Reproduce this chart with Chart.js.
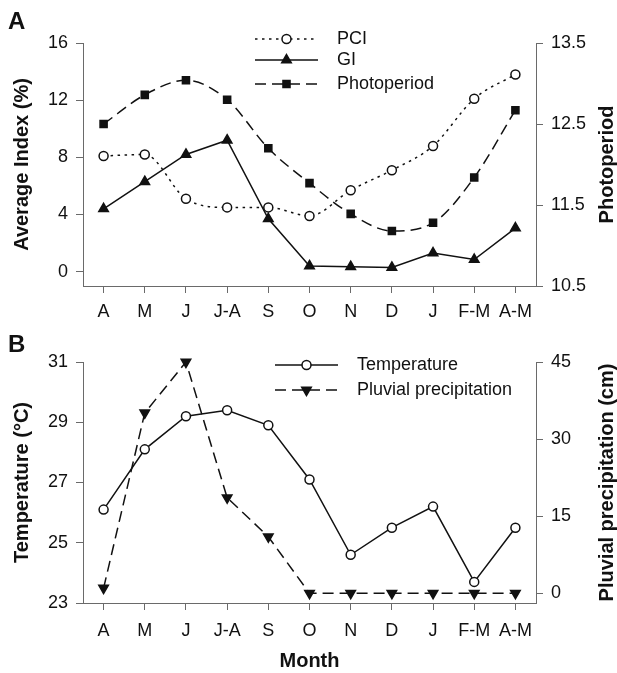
<!DOCTYPE html>
<html><head><meta charset="utf-8">
<script src="https://cdn.jsdelivr.net/npm/chart.js@4/dist/chart.umd.min.js"></script>
<style>
html,body{margin:0;padding:0;background:#fff;}
#wrap{position:relative;width:617px;height:673px;background:#fff;}
canvas{position:absolute;left:0;top:0;width:617px;height:673px;}
</style></head><body>
<div id="wrap"><canvas id="ca" width="617" height="673"></canvas><canvas id="cb" width="617" height="673"></canvas></div>
<script>
// ---- data ----
const months = ['A','M','J','J-A','S','O','N','D','J','F-M','A-M'];
const pci = [8.1, 8.2, 5.1, 4.5, 4.5, 3.9, 5.7, 7.1, 8.8, 12.1, 13.8];
const gi = [4.4, 6.3, 8.2, 9.2, 3.7, 0.4, 0.35, 0.3, 1.3, 0.85, 3.05];
const photoperiod = [12.5, 12.86, 13.04, 12.8, 12.2, 11.77, 11.39, 11.18, 11.28, 11.84, 12.67];
const temperature = [26.1, 28.1, 29.2, 29.4, 28.9, 27.1, 24.6, 25.5, 26.2, 23.7, 25.5];
const precipitation = [1.0, 35.1, 45, 18.6, 11.0, 0, 0, 0, 0, 0, 0];

const indexTicks = [0, 4, 8, 12, 16];
const indexTickLabels = ['0', '4', '8', '12', '16'];
const photoTicks = [10.5, 11.5, 12.5, 13.5];
const photoTickLabels = ['10.5', '11.5', '12.5', '13.5'];
const tempTicks = [23, 25, 27, 29, 31];
const tempTickLabels = ['23', '25', '27', '29', '31'];
const rainTicks = [0, 15, 30, 45];
const rainTickLabels = ['0', '15', '30', '45'];

// ---- style ----
const FONT = "'Liberation Sans', Arial, Helvetica, sans-serif";
const INK = '#111';
const AXIS = '#6a6a6a';
const W = 617, H = 673;

function yAxis(pos, min, max, ticks, labels, width, title) {
  return {
    type: 'linear', position: pos, min: min, max: max,
    afterBuildTicks: s => { s.ticks = ticks.map(v => ({ value: v })); },
    afterFit: s => { s.width = width; },
    grid: { display: true, drawOnChartArea: false, drawTicks: true, tickLength: 7, color: AXIS, lineWidth: 1 },
    border: { display: true, color: AXIS, width: 1 },
    ticks: { font: { family: FONT, size: 18 }, color: INK, padding: 8, callback: (v, i) => labels[i] },
    title: title ? { display: true, text: title, font: { family: FONT, size: 20, weight: 'bold' }, color: INK, padding: { top: 10, bottom: 0 } } : { display: false }
  };
}
function xAxis(height, pad, title) {
  return {
    type: 'category', position: 'bottom', offset: true,
    afterFit: s => { s.height = height; },
    grid: { display: true, drawOnChartArea: false, drawTicks: true, tickLength: 7, color: AXIS, lineWidth: 1, offset: false },
    border: { display: true, color: AXIS, width: 1 },
    ticks: { font: { family: FONT, size: 18 }, color: INK, padding: pad, maxRotation: 0, autoSkip: false },
    title: title ? { display: true, text: title, font: { family: FONT, size: 20, weight: 'bold' }, color: INK, padding: { top: 0, bottom: 0 } } : { display: false }
  };
}

function drawMarker(ctx, ds, x, y) {
  ctx.fillStyle = ds.pointBackgroundColor;
  ctx.strokeStyle = ds.pointBorderColor;
  ctx.lineWidth = ds.pointBorderWidth;
  if (Chart.helpers && Chart.helpers.drawPoint) {
    Chart.helpers.drawPoint(ctx, { pointStyle: ds.pointStyle, rotation: ds.pointRotation || 0, radius: ds.pointRadius, borderWidth: ds.pointBorderWidth }, x, y);
  } else {
    ctx.beginPath(); ctx.arc(x, y, ds.pointRadius, 0, Math.PI * 2); ctx.fill(); ctx.stroke();
  }
}

const deco = {
  id: 'deco',
  afterDraw(chart, args, o) {
    const ctx = chart.ctx;
    const ca = chart.chartArea;
    ctx.save();
    ctx.fillStyle = INK;
    ctx.textBaseline = 'middle';
    ctx.textAlign = 'left';
    ctx.font = 'bold 24px ' + FONT;
    ctx.fillText(o.panel, 8, o.panelY);
    ctx.save();
    ctx.translate(o.rightX, (ca.top + ca.bottom) / 2);
    ctx.rotate(-Math.PI / 2);
    ctx.textAlign = 'center';
    ctx.font = 'bold 20px ' + FONT;
    ctx.fillText(o.rightTitle, 0, 0);
    ctx.restore();
    chart.data.datasets.forEach((ds, i) => {
      const y = o.legendY[i];
      ctx.save();
      ctx.strokeStyle = ds.borderColor;
      ctx.lineWidth = ds.borderWidth;
      ctx.setLineDash(ds.borderDash || []);
      ctx.beginPath(); ctx.moveTo(o.lx0, y); ctx.lineTo(o.lx1, y); ctx.stroke();
      ctx.setLineDash([]);
      drawMarker(ctx, ds, (o.lx0 + o.lx1) / 2, y);
      ctx.restore();
      ctx.fillStyle = INK;
      ctx.font = '18px ' + FONT;
      ctx.textAlign = 'left';
      ctx.textBaseline = 'middle';
      ctx.fillText(ds.label, o.tx, y);
    });
    ctx.restore();
  }
};

function ds(label, data, axis, style) {
  return Object.assign({
    label: label, data: data, yAxisID: axis, borderColor: INK, borderWidth: 1.5,
    pointBorderColor: INK, pointBorderWidth: 1.5, pointHoverRadius: 0, clip: false, tension: 0, fill: false
  }, style);
}

new Chart(document.getElementById('ca'), {
  type: 'line',
  data: {
    labels: months,
    datasets: [
      ds('PCI', pci, 'yL', { borderDash: [2.5, 4.5], cubicInterpolationMode: 'monotone', pointStyle: 'circle', pointRadius: 4.5, pointBackgroundColor: '#fff' }),
      ds('GI', gi, 'yL', { pointStyle: 'triangle', pointRadius: 5.5, pointBackgroundColor: INK }),
      ds('Photoperiod', photoperiod, 'yR', { borderDash: [11, 6], cubicInterpolationMode: 'monotone', pointStyle: 'rect', pointRadius: 5, pointBackgroundColor: INK })
    ]
  },
  options: {
    responsive: false, animation: false, devicePixelRatio: 1,
    layout: { padding: { top: 43, left: 0, right: 0, bottom: 0 } },
    scales: {
      x: xAxis(H - 286, 8, null),
      yL: yAxis('left', -1, 16, indexTicks, indexTickLabels, 83, 'Average Index (%)'),
      yR: yAxis('right', 10.5, 13.5, photoTicks, photoTickLabels, W - 536, null)
    },
    plugins: {
      legend: { display: false }, tooltip: { enabled: false },
      deco: { panel: 'A', panelY: 22, rightTitle: 'Photoperiod', rightX: 607, legendY: [39, 60, 84], lx0: 255, lx1: 318, tx: 337 }
    },
    events: []
  },
  plugins: [deco]
});

new Chart(document.getElementById('cb'), {
  type: 'line',
  data: {
    labels: months,
    datasets: [
      ds('Temperature', temperature, 'yL', { pointStyle: 'circle', pointRadius: 4.5, pointBackgroundColor: '#fff' }),
      ds('Pluvial precipitation', precipitation, 'yR', { borderDash: [11, 6], pointStyle: 'triangle', pointRotation: 180, pointRadius: 5.5, pointBackgroundColor: INK })
    ]
  },
  options: {
    responsive: false, animation: false, devicePixelRatio: 1,
    layout: { padding: { top: 362, left: 0, right: 0, bottom: 0 } },
    scales: {
      x: xAxis(H - 603, 10, 'Month'),
      yL: yAxis('left', 23, 31, tempTicks, tempTickLabels, 83, 'Temperature (°C)'),
      yR: yAxis('right', -1.9, 45, rainTicks, rainTickLabels, W - 536, null)
    },
    plugins: {
      legend: { display: false }, tooltip: { enabled: false },
      deco: { panel: 'B', panelY: 345, rightTitle: 'Pluvial precipitation (cm)', rightX: 607, legendY: [365, 390], lx0: 275, lx1: 338, tx: 357 }
    },
    events: []
  },
  plugins: [deco]
});
</script>
</body></html>
